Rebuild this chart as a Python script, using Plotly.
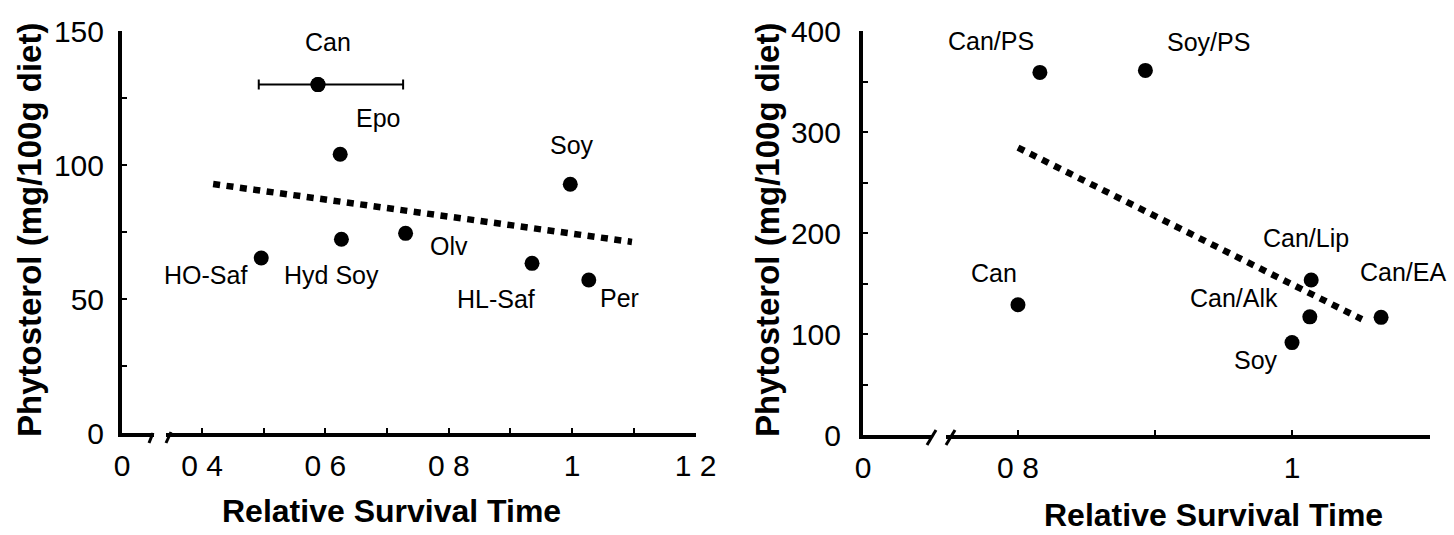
import plotly.graph_objects as go

W, H = 1454, 535
FONT = "Liberation Sans, Arial, Helvetica, sans-serif"

# ---------------- data: left panel ----------------
left_names = ["Can", "Epo", "Hyd Soy", "HO-Saf", "Olv", "HL-Saf", "Per", "Soy"]
left_x = [0.588, 0.624, 0.626, 0.496, 0.730, 0.935, 1.027, 0.997]
left_y = [130, 104, 72.3, 65.3, 74.5, 63.3, 57.1, 92.8]
can_err_plus = [0.138]
can_err_minus = [0.096]
left_trend_x = [0.418, 1.097]
left_trend_y = [92.9, 71.3]
left_xticks = [0.4, 0.5, 0.6, 0.7, 0.8, 0.9, 1.0, 1.1, 1.2]
left_xticktext = ["0 4", "", "0 6", "", "0 8", "", "1", "", "1 2"]
left_yticks = [0, 25, 50, 75, 100, 125, 150]
left_yticktext = ["0", "", "50", "", "100", "", "150"]

# ---------------- data: right panel ----------------
right_names = ["Can/PS", "Soy/PS", "Can", "Can/Lip", "Can/EA", "Can/Alk", "Soy"]
right_x = [0.816, 0.893, 0.800, 1.014, 1.065, 1.013, 1.000]
right_y = [359, 361, 129, 153.5, 116.5, 117, 91.5]
right_trend_x = [0.800, 1.051]
right_trend_y = [284.5, 114.6]
right_xticks = [0.8, 0.9, 1.0]
right_xticktext = ["0 8", "", "1"]
right_yticks = [0, 50, 100, 150, 200, 250, 300, 350, 400]
right_yticktext = ["0", "", "100", "", "200", "", "300", "", "400"]

# label offsets in pixels (dx right, dy up)
left_dx = [10, 38, -10, -56, 43, -36, 31, 2]
left_dy = [43, 36, -36, -17, -13, -36, -18, 39]
right_dx = [-49, 63, -24, -5, 22, -76, -36]
right_dy = [31, 28, 32, 42, 45, 19, -17]

# broken x axes: the segment left of the break stands for "0"
L_PX0, L_PX1 = 122, 696
L_XMIN, L_XMAX = 0.2703, 1.2008
R_PX0, R_PX1 = 863, 1430
R_XMIN, R_XMAX = 0.6869, 1.1007

fig = go.Figure()

dot_line = dict(color="black", width=6.5, dash="7px,6.5px")
marker = dict(color="black", size=15)

fig.add_trace(go.Scatter(x=left_trend_x, y=left_trend_y, mode="lines", line=dot_line,
                         xaxis="x", yaxis="y", hoverinfo="skip"))
fig.add_trace(go.Scatter(x=left_x[:1], y=left_y[:1], mode="markers", marker=marker,
                         error_x=dict(type="data", symmetric=False, array=can_err_plus,
                                      arrayminus=can_err_minus, color="black",
                                      thickness=2, width=5),
                         xaxis="x", yaxis="y"))
fig.add_trace(go.Scatter(x=left_x, y=left_y, mode="markers", marker=marker,
                         xaxis="x", yaxis="y"))
fig.add_trace(go.Scatter(x=right_trend_x, y=right_trend_y, mode="lines", line=dot_line,
                         xaxis="x2", yaxis="y2", hoverinfo="skip"))
fig.add_trace(go.Scatter(x=right_x, y=right_y, mode="markers", marker=marker,
                         xaxis="x2", yaxis="y2"))

axis_common = dict(showline=True, linecolor="black", linewidth=4, showgrid=False,
                   zeroline=False, ticks="inside", tickcolor="black", ticklen=5,
                   tickwidth=2, tickfont=dict(size=30, family=FONT, color="black"),
                   fixedrange=True, automargin=False)

fig.update_layout(
    template="none",
    width=W, height=H, margin=dict(l=0, r=0, t=0, b=0, pad=0),
    plot_bgcolor="white", paper_bgcolor="white", showlegend=False,
    font=dict(family=FONT, color="black"),
    xaxis=dict(**axis_common, domain=[L_PX0 / W, L_PX1 / W], range=[L_XMIN, L_XMAX],
               tickvals=[L_XMIN] + left_xticks, ticktext=["0"] + left_xticktext,
               anchor="y", ticklabelstandoff=3),
    yaxis=dict(**axis_common, domain=[1 - 433 / H, 1 - 31 / H], range=[0, 150],
               tickvals=left_yticks, ticktext=left_yticktext, anchor="x",
               ticklabelstandoff=8),
    xaxis2=dict(**axis_common, domain=[R_PX0 / W, R_PX1 / W], range=[R_XMIN, R_XMAX],
                tickvals=[R_XMIN] + right_xticks, ticktext=["0"] + right_xticktext,
                anchor="y2", ticklabelstandoff=3),
    yaxis2=dict(**axis_common, domain=[1 - 435 / H, 1 - 31 / H], range=[0, 400],
                tickvals=right_yticks, ticktext=right_yticktext, anchor="x2",
                ticklabelstandoff=12),
)

annotations = []
for n, x, y, dx, dy in zip(left_names, left_x, left_y, left_dx, left_dy):
    annotations.append(dict(text=n, x=x, y=y, xref="x", yref="y", showarrow=False,
                            xshift=dx, yshift=dy, xanchor="center", yanchor="middle",
                            font=dict(size=25, family=FONT, color="black")))
for n, x, y, dx, dy in zip(right_names, right_x, right_y, right_dx, right_dy):
    annotations.append(dict(text=n, x=x, y=y, xref="x2", yref="y2", showarrow=False,
                            xshift=dx, yshift=dy, xanchor="center", yanchor="middle",
                            font=dict(size=25, family=FONT, color="black")))

title_font = dict(size=32, family=FONT, color="black")
annotations += [
    dict(text="<b>Relative Survival Time</b>", x=391 / W, y=1 - 511 / H, xref="paper",
         yref="paper", showarrow=False, xanchor="center", yanchor="middle", font=title_font),
    dict(text="<b>Relative Survival Time</b>", x=1213 / W, y=1 - 515 / H, xref="paper",
         yref="paper", showarrow=False, xanchor="center", yanchor="middle", font=title_font),
    dict(text="<b>Phytosterol (mg/100g diet)</b>", x=29 / W, y=1 - 230 / H, xref="paper",
         yref="paper", showarrow=False, textangle=-90, xanchor="center", yanchor="middle",
         font=dict(size=33, family=FONT, color="black")),
    dict(text="<b>Phytosterol (mg/100g diet)</b>", x=767 / W, y=1 - 230 / H, xref="paper",
         yref="paper", showarrow=False, textangle=-90, xanchor="center", yanchor="middle",
         font=dict(size=33, family=FONT, color="black")),
]

shapes = []
# gaps in the x axis lines
for (xa, xb, yc) in [(154, 166, 433), (932, 946, 435)]:
    shapes.append(dict(type="rect", xref="paper", yref="paper", layer="above",
                       x0=xa / W, x1=xb / W, y0=1 - (yc + 5) / H, y1=1 - (yc - 5) / H,
                       fillcolor="white", line=dict(width=0)))
# axis-break slashes
for (x0, y0, x1, y1) in [(153, 433, 149, 443), (171, 432, 166, 443),
                         (936, 430, 927, 445), (955, 430, 946, 445)]:
    shapes.append(dict(type="line", xref="paper", yref="paper", layer="above",
                       x0=x0 / W, y0=1 - y0 / H, x1=x1 / W, y1=1 - y1 / H,
                       line=dict(color="black", width=3)))

fig.update_layout(annotations=annotations, shapes=shapes)
fig.write_html("out.html")
